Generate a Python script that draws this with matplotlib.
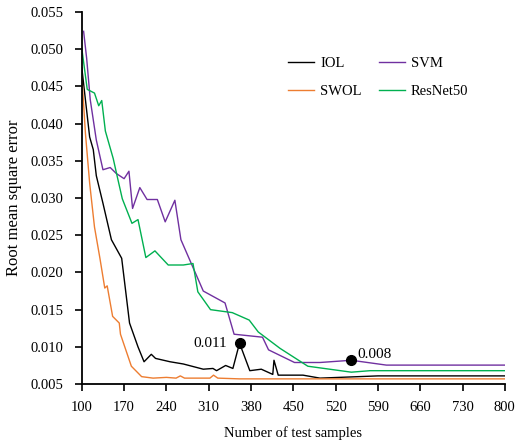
import numpy as np
import matplotlib.pyplot as plt

plt.rcParams['font.family'] = ['Liberation Serif', 'DejaVu Serif']

# IOL
iol_x = [100, 113, 119, 124, 135, 149, 166, 179, 193, 203, 215, 222, 246, 268, 301, 317, 323,
         338, 350, 361, 378, 397, 416, 418, 425, 466, 494, 590, 800]
iol_y = [0.0475, 0.0382, 0.0365, 0.0330, 0.0293, 0.0244, 0.0219, 0.0132, 0.0100, 0.0080, 0.0090,
         0.00845, 0.0080, 0.0077, 0.0070, 0.0071, 0.0068, 0.0075, 0.0071, 0.0105, 0.0068, 0.0070,
         0.0063, 0.0082, 0.0062, 0.0062, 0.0058, 0.0061, 0.0061]

# SWOL
swol_x = [100, 106, 113, 121, 130, 138, 142, 151, 162, 164, 182, 199, 218, 240, 256, 263, 270,
          312, 318, 325, 361, 800]
swol_y = [0.0465, 0.0387, 0.0320, 0.0261, 0.0219, 0.0179, 0.0182, 0.0141, 0.0132, 0.0117, 0.0074,
          0.0060, 0.0058, 0.0059, 0.0058, 0.0061, 0.0058, 0.0058, 0.0062, 0.0058, 0.0057, 0.0057]

# SVM
svm_x = [103, 108, 114, 124, 135, 147, 157, 170, 178, 184, 196, 208, 225, 238, 254, 264, 301,
         337, 352, 399, 409, 452, 494, 546, 604, 800]
svm_y = [0.0524, 0.0488, 0.0432, 0.0378, 0.0338, 0.0341, 0.0333, 0.0326, 0.0336, 0.0286, 0.0314,
         0.0298, 0.0298, 0.0268, 0.0297, 0.0244, 0.0175, 0.0159, 0.0117, 0.0113, 0.0096, 0.0079,
         0.0079, 0.0082, 0.00755, 0.00755]

# ResNet50
res_x = [100, 109, 121, 128, 133, 139, 152, 160, 167, 183, 193, 206, 221, 243, 268, 284, 292,
         313, 349, 377, 392, 428, 474, 546, 577, 800]
res_y = [0.0501, 0.0446, 0.0441, 0.0424, 0.0431, 0.0390, 0.0353, 0.0324, 0.0299, 0.0266, 0.0271,
         0.0220, 0.0229, 0.0210, 0.0210, 0.0212, 0.0174, 0.0150, 0.0146, 0.0136, 0.0120, 0.0098,
         0.0074, 0.0066, 0.0068, 0.0068]

marks_x = [361, 546]
marks_y = [0.0105, 0.0082]
marks_txt = ['0.011', '0.008']

fig = plt.figure(figsize=(5.21, 4.43), dpi=100)
ax = fig.add_axes([0.157, 0.133, 0.812, 0.84])

ax.plot(iol_x, iol_y, color='#000000', lw=1, label='IOL')
ax.plot(swol_x, swol_y, color='#ED7D31', lw=1, label='SWOL')
ax.plot(svm_x, svm_y, color='#7030A0', lw=1, label='SVM')
ax.plot(res_x, res_y, color='#00B050', lw=1, label='ResNet50')

# highlighted points
ax.plot(marks_x, marks_y, 'o', color='black', ms=7, zorder=5)
ax.annotate(marks_txt[0], (marks_x[0], marks_y[0]), xytext=(-9, 0), textcoords='offset points',
            ha='right', va='center', fontsize=11)
ax.annotate(marks_txt[1], (marks_x[1], marks_y[1]), xytext=(4, 4), textcoords='offset points',
            ha='left', va='center', fontsize=11)

ax.set_xlim(100, 800)
ax.set_ylim(0.005, 0.055)
ax.set_xticks(np.arange(100, 801, 70))
ax.set_yticks(np.arange(0.005, 0.0551, 0.005))
ax.yaxis.set_major_formatter(plt.FormatStrFormatter('%.3f'))
ax.tick_params(direction='out', length=5, width=1.2, labelsize=10.5, pad=7)
ax.tick_params(axis='y', pad=8)
for s in ['top', 'right']:
    ax.spines[s].set_visible(False)
for s in ['left', 'bottom']:
    ax.spines[s].set_linewidth(1.3)

ax.set_xlabel('Number of test samples', fontsize=10.5, labelpad=9)
ax.set_ylabel('Root mean square error', fontsize=12, labelpad=6)

ax.legend(ncol=2, frameon=False, loc='upper left', bbox_to_anchor=(0.47, 0.90), fontsize=10.5,
          borderpad=0, handlelength=1.8, handletextpad=0.4, columnspacing=1.2, labelspacing=1.05)

fig.savefig('out.png', dpi=100)
